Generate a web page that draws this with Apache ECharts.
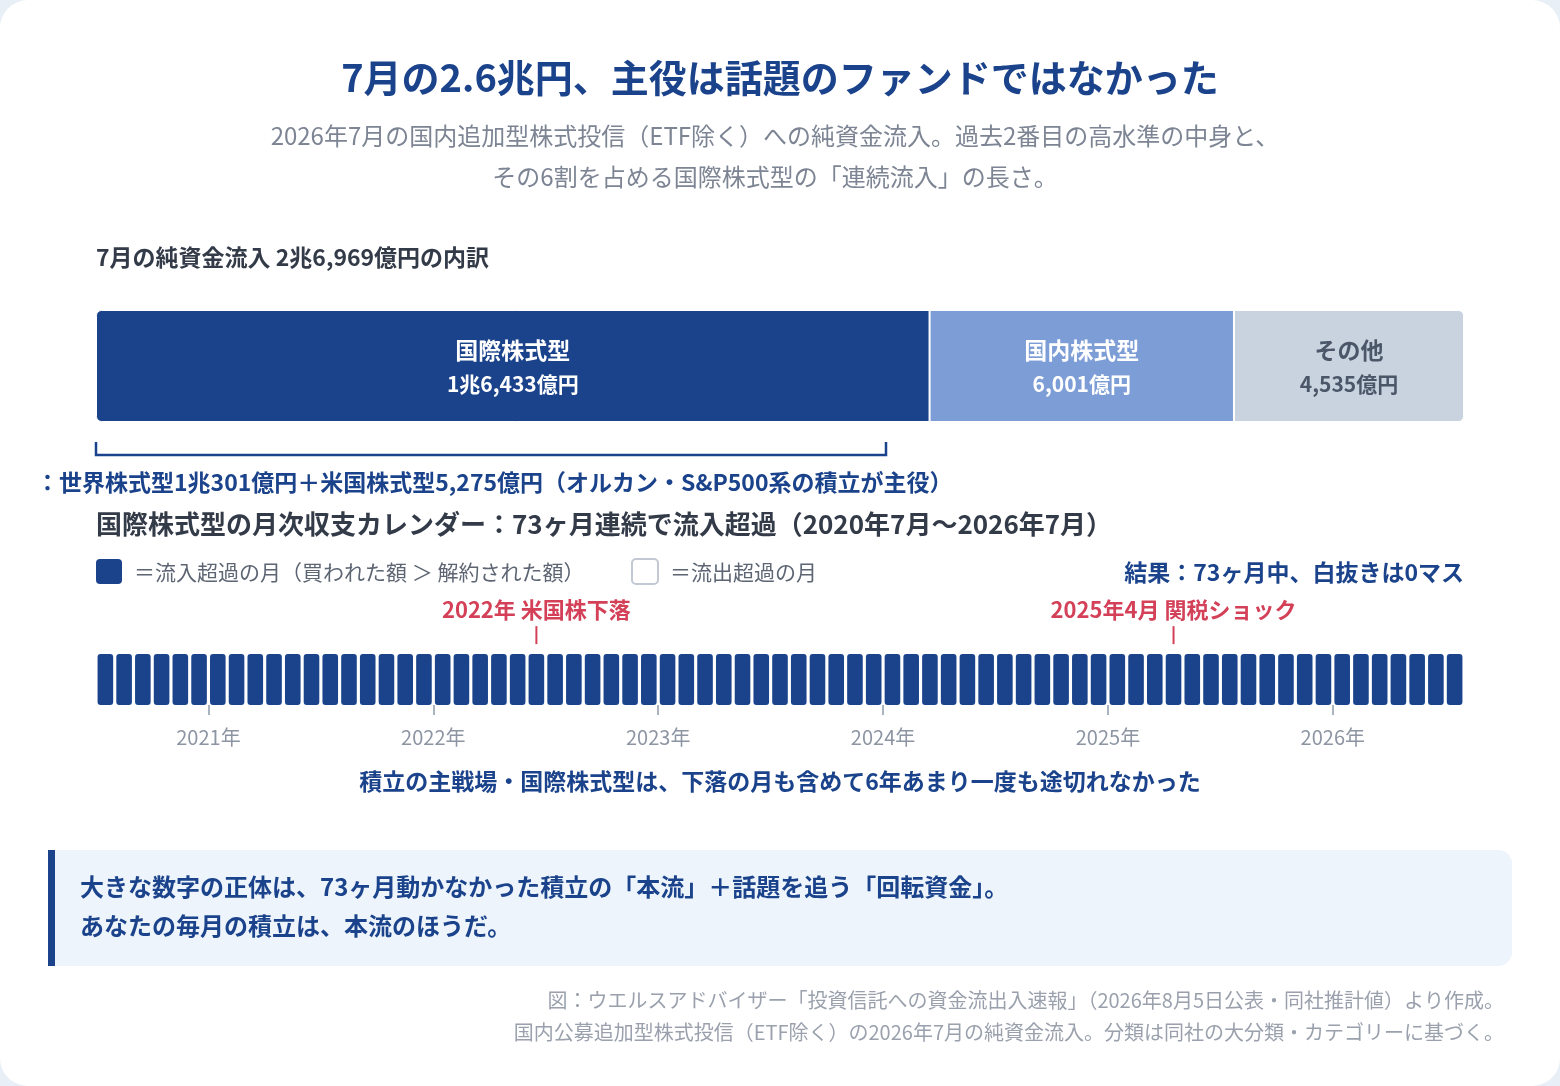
<!DOCTYPE html>
<html><head><meta charset="utf-8">
<script src="https://cdn.jsdelivr.net/npm/echarts@6/dist/echarts.min.js"></script>
<style>html,body{margin:0;padding:0;background:#e9eff7;}#c{width:1560px;height:1086px;}</style>
</head><body><div id="c"></div>
<script>
const segNames = ['国際株式型','国内株式型','その他'];
const segValues = [16433, 6001, 4535];
const segLabels = ['1兆6,433億円','6,001億円','4,535億円'];
const monthCount = 73;
const monthValues = Array(73).fill(1);
const yearTickLabels = ['2021年','2022年','2023年','2024年','2025年','2026年'];
const yearTickPos = [6,18,30,42,54,66];
const events = [{pos:23.5,label:'2022年 米国株下落'},{pos:57.5,label:'2025年4月 関税ショック'}];

const F = '"Noto Sans CJK JP","Noto Sans",sans-serif';
const navy = '#1b438b', red = '#c8102e', gray = '#7d8594', dark = '#333a48';
const chart = echarts.init(document.getElementById('c'));
const total = segValues.reduce((a,b)=>a+b,0);
const segColors = ['#1b438b','#7d9dd6','#c9d3df'];
const segText = ['#ffffff','#ffffff','#4b5769'];

const stackSeries = segNames.map((n,i)=>({
  type:'bar', stack:'s', xAxisIndex:0, yAxisIndex:0, barWidth:112,
  data:[segValues[i]],
  itemStyle:{color:segColors[i], borderRadius: i===0?[5,0,0,5]:(i===2?[0,5,5,0]:0), borderColor:'#fff', borderWidth:1},
  label:{show:true, position:'inside', formatter:()=>`{a|${n}}\n{b|${segLabels[i]}}`,
    rich:{a:{fontFamily:F,fontSize:23,fontWeight:'bold',color:segText[i],lineHeight:36},
          b:{fontFamily:F,fontSize:21,fontWeight:'bold',color:segText[i],lineHeight:32}}}
}));

chart.setOption({
  animation:false,
  grid:[{left:96,right:96,top:310,height:112},{left:96,right:96,top:654,height:51}],
  xAxis:[{type:'value',gridIndex:0,min:0,max:total,show:false},
    {type:'value',gridIndex:1,min:0,max:monthCount,
      axisLine:{show:false},splitLine:{show:false},
      axisTick:{show:true,customValues:yearTickPos,length:10,lineStyle:{color:'#aab3c0',width:2}},
      axisLabel:{customValues:yearTickPos,formatter:v=>yearTickLabels[yearTickPos.indexOf(v)],color:'#8d95a3',fontFamily:F,fontSize:20,margin:22}}],
  yAxis:[{type:'category',gridIndex:0,data:['x'],show:false},
    {type:'value',gridIndex:1,min:0,max:1,show:false}],
  series:[...stackSeries,
    {type:'bar',xAxisIndex:1,yAxisIndex:1,barWidth:15.6,
     data:monthValues.map((v,i)=>[i+0.5,v]),itemStyle:{color:navy,borderRadius:3}},
    {type:'scatter',xAxisIndex:1,yAxisIndex:1,symbol:'rect',symbolSize:[2,18],clip:false,
     data:events.map(e=>[e.pos,1.37]),itemStyle:{color:red},
     label:{show:true,position:'top',distance:5,formatter:p=>events[p.dataIndex].label,color:red,fontFamily:F,fontSize:22,fontWeight:'bold'}}
  ],
  graphic:[
    {type:'rect',shape:{x:0,y:0,width:1560,height:1086,r:28},style:{fill:'#fff'},z:-10},
    {type:'text',x:780,y:78,style:{text:'7月の2.6兆円、主役は話題のファンドではなかった',fill:navy,font:`bold 38px ${F}`,align:'center',verticalAlign:'middle'}},
    {type:'text',x:775,y:136,style:{text:'2026年7月の国内追加型株式投信（ETF除く）への純資金流入。過去2番目の高水準の中身と、',fill:gray,font:`24px ${F}`,align:'center',verticalAlign:'middle'}},
    {type:'text',x:775,y:177,style:{text:'その6割を占める国際株式型の「連続流入」の長さ。',fill:gray,font:`24px ${F}`,align:'center',verticalAlign:'middle'}},
    {type:'text',x:96,y:257,style:{text:'7月の純資金流入 2兆6,969億円の内訳',fill:dark,font:`bold 23px ${F}`,verticalAlign:'middle'}},
    {type:'polyline',shape:{points:[[96,442],[96,455],[886,455],[886,442]]},style:{stroke:navy,lineWidth:2.5,fill:null}},
    {type:'text',x:36,y:482,style:{text:'：世界株式型1兆301億円＋米国株式型5,275億円（オルカン・S&P500系の積立が主役）',fill:navy,font:`bold 23px ${F}`,verticalAlign:'middle'}},
    {type:'text',x:96,y:524,style:{text:'国際株式型の月次収支カレンダー：73ヶ月連続で流入超過（2020年7月〜2026年7月）',fill:dark,font:`bold 26px ${F}`,verticalAlign:'middle'}},
    {type:'rect',shape:{x:96,y:559,width:26,height:25,r:4},style:{fill:navy}},
    {type:'text',x:134,y:572,style:{text:'＝流入超過の月（買われた額 ＞ 解約された額）',fill:'#5d6573',font:`21px ${F}`,verticalAlign:'middle'}},
    {type:'rect',shape:{x:632,y:559,width:26,height:25,r:4},style:{fill:'#fff',stroke:'#c2c9d4',lineWidth:2}},
    {type:'text',x:670,y:572,style:{text:'＝流出超過の月',fill:'#5d6573',font:`21px ${F}`,verticalAlign:'middle'}},
    {type:'text',x:1464,y:572,style:{text:'結果：73ヶ月中、白抜きは0マス',fill:navy,font:`bold 23px ${F}`,align:'right',verticalAlign:'middle'}},
    {type:'text',x:780,y:781,style:{text:'積立の主戦場・国際株式型は、下落の月も含めて6年あまり一度も途切れなかった',fill:navy,font:`bold 23px ${F}`,align:'center',verticalAlign:'middle'}},
    {type:'rect',shape:{x:48,y:850,width:1464,height:116,r:[0,14,14,0]},style:{fill:'#edf4fc'}},
    {type:'rect',shape:{x:48,y:850,width:7,height:116},style:{fill:navy}},
    {type:'text',x:80,y:887,style:{text:'大きな数字の正体は、73ヶ月動かなかった積立の「本流」＋話題を追う「回転資金」。',fill:navy,font:`bold 24px ${F}`,verticalAlign:'middle'}},
    {type:'text',x:80,y:926,style:{text:'あなたの毎月の積立は、本流のほうだ。',fill:navy,font:`bold 24px ${F}`,verticalAlign:'middle'}},
    {type:'text',x:1504,y:1000,style:{text:'図：ウエルスアドバイザー「投資信託への資金流出入速報」（2026年8月5日公表・同社推計値）より作成。',fill:'#9aa1ad',font:`20px ${F}`,align:'right',verticalAlign:'middle'}},
    {type:'text',x:1504,y:1032,style:{text:'国内公募追加型株式投信（ETF除く）の2026年7月の純資金流入。分類は同社の大分類・カテゴリーに基づく。',fill:'#9aa1ad',font:`20px ${F}`,align:'right',verticalAlign:'middle'}}
  ]
});
</script></body></html>
